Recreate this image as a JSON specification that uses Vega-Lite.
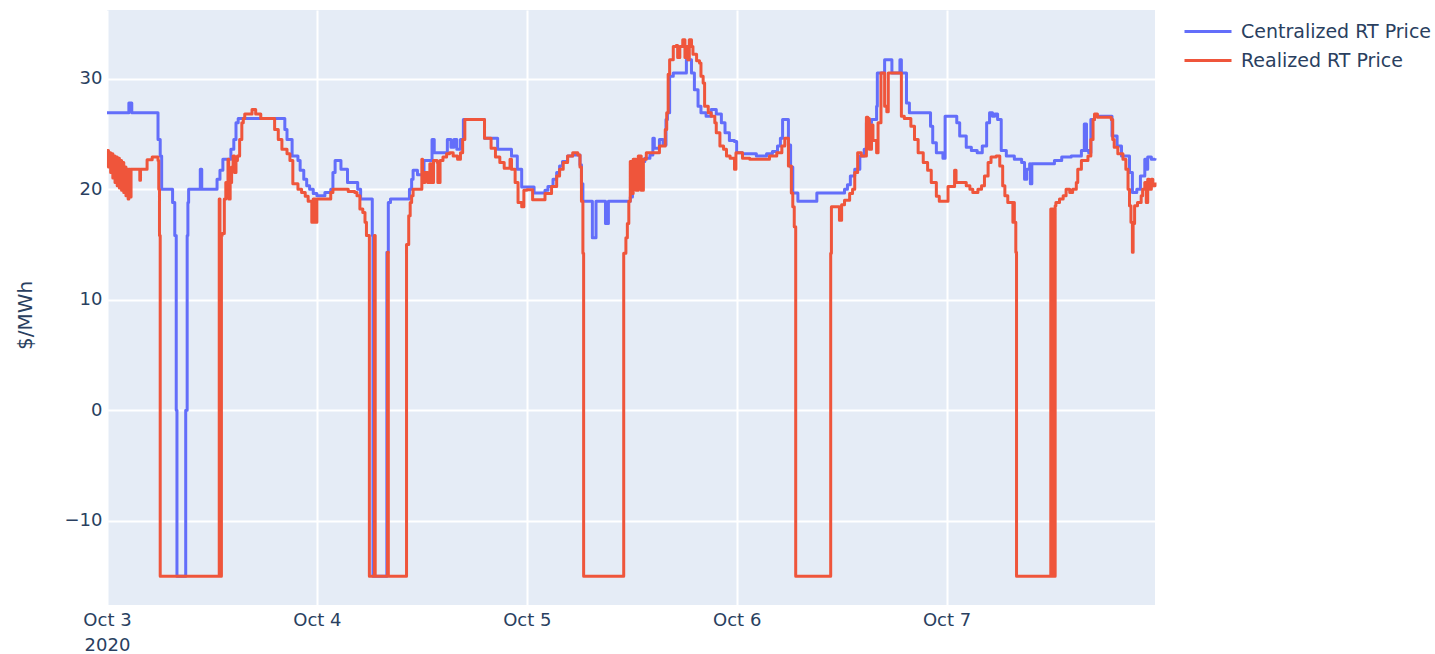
{
  "$schema": "https://vega.github.io/schema/vega-lite/v6.json",
  "width": 1048,
  "height": 595,
  "autosize": {"type": "none"},
  "padding": {"left": 107, "top": 10, "right": 280, "bottom": 49},
  "background": "white",
  "config": {
    "view": {"fill": "#E5ECF6", "stroke": null},
    "font": "DejaVu Sans",
    "axis": {
      "grid": true,
      "gridColor": "white",
      "gridWidth": 2,
      "domain": false,
      "ticks": false,
      "labelColor": "#2a3f5f",
      "labelFontSize": 18,
      "titleColor": "#2a3f5f",
      "titleFontWeight": "normal",
      "titleFontSize": 20
    },
    "legend": {
      "labelColor": "#2a3f5f",
      "labelFontSize": 19,
      "labelLimit": 400,
      "symbolType": "stroke",
      "symbolStrokeWidth": 3,
      "symbolSize": 2209,
      "labelOffset": 8,
      "clipHeight": 29,
      "rowPadding": 0,
      "padding": 0
    }
  },
  "datasets": {
    "central": [
      {"t": "2020-10-03T00:00", "p": 26.9},
      {"t": "2020-10-03T02:30", "p": 27.8},
      {"t": "2020-10-03T02:50", "p": 26.9},
      {"t": "2020-10-03T05:50", "p": 24.5},
      {"t": "2020-10-03T06:05", "p": 23.0},
      {"t": "2020-10-03T06:15", "p": 20.0},
      {"t": "2020-10-03T07:30", "p": 18.8},
      {"t": "2020-10-03T07:45", "p": 15.8},
      {"t": "2020-10-03T07:55", "p": 0},
      {"t": "2020-10-03T08:00", "p": -15},
      {"t": "2020-10-03T09:00", "p": 0},
      {"t": "2020-10-03T09:10", "p": 15.8},
      {"t": "2020-10-03T09:15", "p": 18.8},
      {"t": "2020-10-03T09:20", "p": 20.0},
      {"t": "2020-10-03T10:40", "p": 21.8},
      {"t": "2020-10-03T10:50", "p": 20.0},
      {"t": "2020-10-03T12:35", "p": 20.9},
      {"t": "2020-10-03T12:55", "p": 21.7},
      {"t": "2020-10-03T13:15", "p": 22.7},
      {"t": "2020-10-03T14:10", "p": 23.6},
      {"t": "2020-10-03T14:30", "p": 24.5},
      {"t": "2020-10-03T14:45", "p": 26.0},
      {"t": "2020-10-03T15:00", "p": 26.4},
      {"t": "2020-10-03T20:20", "p": 25.4},
      {"t": "2020-10-03T20:35", "p": 24.5},
      {"t": "2020-10-03T21:10", "p": 23.0},
      {"t": "2020-10-03T21:50", "p": 22.6},
      {"t": "2020-10-03T22:05", "p": 21.7},
      {"t": "2020-10-03T22:30", "p": 20.9},
      {"t": "2020-10-03T22:50", "p": 20.3},
      {"t": "2020-10-03T23:10", "p": 20.0},
      {"t": "2020-10-03T23:35", "p": 19.6},
      {"t": "2020-10-04T00:00", "p": 19.4},
      {"t": "2020-10-04T00:55", "p": 19.7},
      {"t": "2020-10-04T01:35", "p": 20.0},
      {"t": "2020-10-04T01:50", "p": 21.5},
      {"t": "2020-10-04T02:05", "p": 22.6},
      {"t": "2020-10-04T02:45", "p": 21.8},
      {"t": "2020-10-04T03:30", "p": 20.6},
      {"t": "2020-10-04T04:40", "p": 20.0},
      {"t": "2020-10-04T05:00", "p": 19.1},
      {"t": "2020-10-04T06:20", "p": 15.8},
      {"t": "2020-10-04T06:25", "p": -15},
      {"t": "2020-10-04T08:00", "p": 14.3},
      {"t": "2020-10-04T08:10", "p": 18.8},
      {"t": "2020-10-04T08:25", "p": 19.1},
      {"t": "2020-10-04T10:35", "p": 20.0},
      {"t": "2020-10-04T10:50", "p": 20.9},
      {"t": "2020-10-04T11:00", "p": 21.7},
      {"t": "2020-10-04T11:30", "p": 21.3},
      {"t": "2020-10-04T12:15", "p": 22.6},
      {"t": "2020-10-04T13:10", "p": 24.5},
      {"t": "2020-10-04T13:25", "p": 23.3},
      {"t": "2020-10-04T14:55", "p": 24.5},
      {"t": "2020-10-04T15:20", "p": 23.8},
      {"t": "2020-10-04T15:40", "p": 24.5},
      {"t": "2020-10-04T16:00", "p": 23.6},
      {"t": "2020-10-04T16:25", "p": 24.5},
      {"t": "2020-10-04T16:45", "p": 26.3},
      {"t": "2020-10-04T19:10", "p": 24.6},
      {"t": "2020-10-04T20:40", "p": 23.6},
      {"t": "2020-10-04T22:15", "p": 23.0},
      {"t": "2020-10-04T22:55", "p": 21.8},
      {"t": "2020-10-04T23:25", "p": 20.2},
      {"t": "2020-10-05T00:50", "p": 19.65},
      {"t": "2020-10-05T02:05", "p": 19.9},
      {"t": "2020-10-05T02:25", "p": 20.25},
      {"t": "2020-10-05T03:00", "p": 20.9},
      {"t": "2020-10-05T03:25", "p": 21.5},
      {"t": "2020-10-05T03:45", "p": 22.1},
      {"t": "2020-10-05T04:05", "p": 22.5},
      {"t": "2020-10-05T04:40", "p": 23.0},
      {"t": "2020-10-05T05:15", "p": 23.1},
      {"t": "2020-10-05T06:05", "p": 22.2},
      {"t": "2020-10-05T06:15", "p": 20.5},
      {"t": "2020-10-05T06:25", "p": 18.9},
      {"t": "2020-10-05T07:30", "p": 15.6},
      {"t": "2020-10-05T07:55", "p": 18.9},
      {"t": "2020-10-05T09:00", "p": 16.9},
      {"t": "2020-10-05T09:20", "p": 18.9},
      {"t": "2020-10-05T11:50", "p": 19.3},
      {"t": "2020-10-05T12:05", "p": 20.0},
      {"t": "2020-10-05T12:25", "p": 21.5},
      {"t": "2020-10-05T12:50", "p": 22.5},
      {"t": "2020-10-05T13:30", "p": 22.8},
      {"t": "2020-10-05T14:05", "p": 23.1},
      {"t": "2020-10-05T14:25", "p": 24.6},
      {"t": "2020-10-05T14:35", "p": 23.7},
      {"t": "2020-10-05T15:10", "p": 24.5},
      {"t": "2020-10-05T15:35", "p": 24.0},
      {"t": "2020-10-05T15:55", "p": 26.3},
      {"t": "2020-10-05T16:05", "p": 26.9},
      {"t": "2020-10-05T16:20", "p": 30.2},
      {"t": "2020-10-05T16:45", "p": 30.5},
      {"t": "2020-10-05T18:15", "p": 31.7},
      {"t": "2020-10-05T18:50", "p": 30.5},
      {"t": "2020-10-05T19:10", "p": 29.0},
      {"t": "2020-10-05T19:35", "p": 27.5},
      {"t": "2020-10-05T19:55", "p": 26.9},
      {"t": "2020-10-05T20:30", "p": 26.6},
      {"t": "2020-10-05T21:05", "p": 27.2},
      {"t": "2020-10-05T21:40", "p": 26.8},
      {"t": "2020-10-05T22:15", "p": 26.0},
      {"t": "2020-10-05T22:40", "p": 25.1},
      {"t": "2020-10-05T23:10", "p": 24.4},
      {"t": "2020-10-05T23:45", "p": 24.3},
      {"t": "2020-10-06T00:00", "p": 23.3},
      {"t": "2020-10-06T00:40", "p": 23.2},
      {"t": "2020-10-06T02:15", "p": 23.0},
      {"t": "2020-10-06T03:25", "p": 23.2},
      {"t": "2020-10-06T04:05", "p": 23.4},
      {"t": "2020-10-06T04:40", "p": 23.9},
      {"t": "2020-10-06T05:00", "p": 24.6},
      {"t": "2020-10-06T05:15", "p": 26.3},
      {"t": "2020-10-06T05:55", "p": 24.0},
      {"t": "2020-10-06T06:10", "p": 22.0},
      {"t": "2020-10-06T06:25", "p": 19.65},
      {"t": "2020-10-06T07:00", "p": 18.9},
      {"t": "2020-10-06T09:10", "p": 19.65},
      {"t": "2020-10-06T12:20", "p": 20.0},
      {"t": "2020-10-06T12:40", "p": 20.4},
      {"t": "2020-10-06T13:00", "p": 21.2},
      {"t": "2020-10-06T13:30", "p": 21.8},
      {"t": "2020-10-06T14:05", "p": 23.0},
      {"t": "2020-10-06T14:35", "p": 23.6},
      {"t": "2020-10-06T14:50", "p": 26.0},
      {"t": "2020-10-06T15:25", "p": 26.3},
      {"t": "2020-10-06T16:00", "p": 27.5},
      {"t": "2020-10-06T16:05", "p": 30.5},
      {"t": "2020-10-06T16:55", "p": 31.7},
      {"t": "2020-10-06T17:45", "p": 30.5},
      {"t": "2020-10-06T18:40", "p": 31.7},
      {"t": "2020-10-06T18:50", "p": 30.5},
      {"t": "2020-10-06T19:25", "p": 27.8},
      {"t": "2020-10-06T19:45", "p": 26.9},
      {"t": "2020-10-06T22:10", "p": 25.7},
      {"t": "2020-10-06T22:25", "p": 24.2},
      {"t": "2020-10-06T22:50", "p": 23.3},
      {"t": "2020-10-06T23:35", "p": 22.8},
      {"t": "2020-10-06T23:50", "p": 26.6},
      {"t": "2020-10-07T01:10", "p": 26.0},
      {"t": "2020-10-07T01:30", "p": 24.8},
      {"t": "2020-10-07T02:15", "p": 23.8},
      {"t": "2020-10-07T02:50", "p": 23.5},
      {"t": "2020-10-07T03:30", "p": 23.3},
      {"t": "2020-10-07T04:05", "p": 23.9},
      {"t": "2020-10-07T04:35", "p": 26.0},
      {"t": "2020-10-07T04:55", "p": 26.9},
      {"t": "2020-10-07T05:15", "p": 26.6},
      {"t": "2020-10-07T05:30", "p": 26.8},
      {"t": "2020-10-07T05:50", "p": 26.3},
      {"t": "2020-10-07T06:15", "p": 23.5},
      {"t": "2020-10-07T06:50", "p": 23.0},
      {"t": "2020-10-07T07:45", "p": 22.7},
      {"t": "2020-10-07T08:35", "p": 22.4},
      {"t": "2020-10-07T08:55", "p": 20.9},
      {"t": "2020-10-07T09:10", "p": 21.8},
      {"t": "2020-10-07T09:30", "p": 22.3},
      {"t": "2020-10-07T09:35", "p": 20.5},
      {"t": "2020-10-07T09:45", "p": 22.3},
      {"t": "2020-10-07T12:20", "p": 22.6},
      {"t": "2020-10-07T13:10", "p": 22.9},
      {"t": "2020-10-07T14:15", "p": 23.0},
      {"t": "2020-10-07T15:25", "p": 23.5},
      {"t": "2020-10-07T15:45", "p": 25.9},
      {"t": "2020-10-07T16:00", "p": 23.5},
      {"t": "2020-10-07T16:15", "p": 23.3},
      {"t": "2020-10-07T16:30", "p": 26.3},
      {"t": "2020-10-07T16:55", "p": 26.6},
      {"t": "2020-10-07T18:55", "p": 24.8},
      {"t": "2020-10-07T19:30", "p": 23.9},
      {"t": "2020-10-07T20:00", "p": 23.0},
      {"t": "2020-10-07T20:55", "p": 21.5},
      {"t": "2020-10-07T21:15", "p": 19.7},
      {"t": "2020-10-07T21:45", "p": 20.0},
      {"t": "2020-10-07T22:10", "p": 21.2},
      {"t": "2020-10-07T22:40", "p": 22.7},
      {"t": "2020-10-07T22:50", "p": 21.8},
      {"t": "2020-10-07T23:00", "p": 22.9},
      {"t": "2020-10-07T23:25", "p": 22.7},
      {"t": "2020-10-07T23:50", "p": 22.8}
    ],
    "realized": [
      {"t": "2020-10-03T00:00", "p": 23.5},
      {"t": "2020-10-03T00:10", "p": 22.0},
      {"t": "2020-10-03T00:15", "p": 23.3},
      {"t": "2020-10-03T00:25", "p": 21.5},
      {"t": "2020-10-03T00:30", "p": 23.2},
      {"t": "2020-10-03T00:40", "p": 21.0},
      {"t": "2020-10-03T00:45", "p": 23.0},
      {"t": "2020-10-03T00:55", "p": 20.6},
      {"t": "2020-10-03T01:00", "p": 22.9},
      {"t": "2020-10-03T01:10", "p": 20.3},
      {"t": "2020-10-03T01:15", "p": 22.8},
      {"t": "2020-10-03T01:25", "p": 20.1},
      {"t": "2020-10-03T01:30", "p": 22.6},
      {"t": "2020-10-03T01:40", "p": 19.9},
      {"t": "2020-10-03T01:45", "p": 22.4},
      {"t": "2020-10-03T01:55", "p": 19.7},
      {"t": "2020-10-03T02:00", "p": 22.0},
      {"t": "2020-10-03T02:10", "p": 19.4},
      {"t": "2020-10-03T02:15", "p": 21.8},
      {"t": "2020-10-03T02:25", "p": 19.1},
      {"t": "2020-10-03T02:30", "p": 21.8},
      {"t": "2020-10-03T02:40", "p": 19.3},
      {"t": "2020-10-03T02:45", "p": 21.8},
      {"t": "2020-10-03T03:45", "p": 20.8},
      {"t": "2020-10-03T03:50", "p": 21.8},
      {"t": "2020-10-03T04:35", "p": 22.65},
      {"t": "2020-10-03T05:10", "p": 22.9},
      {"t": "2020-10-03T05:50", "p": 22.6},
      {"t": "2020-10-03T05:55", "p": 20.0},
      {"t": "2020-10-03T06:00", "p": 15.8},
      {"t": "2020-10-03T06:05", "p": -15},
      {"t": "2020-10-03T12:50", "p": 19.1},
      {"t": "2020-10-03T12:55", "p": -15},
      {"t": "2020-10-03T13:05", "p": 15.8},
      {"t": "2020-10-03T13:10", "p": 16.0},
      {"t": "2020-10-03T13:25", "p": 19.1},
      {"t": "2020-10-03T13:35", "p": 20.6},
      {"t": "2020-10-03T13:50", "p": 22.7},
      {"t": "2020-10-03T13:55", "p": 19.1},
      {"t": "2020-10-03T14:05", "p": 20.6},
      {"t": "2020-10-03T14:15", "p": 22.0},
      {"t": "2020-10-03T14:25", "p": 23.0},
      {"t": "2020-10-03T14:35", "p": 21.5},
      {"t": "2020-10-03T14:45", "p": 22.6},
      {"t": "2020-10-03T14:55", "p": 23.0},
      {"t": "2020-10-03T15:10", "p": 24.5},
      {"t": "2020-10-03T15:25", "p": 26.0},
      {"t": "2020-10-03T15:35", "p": 26.4},
      {"t": "2020-10-03T15:45", "p": 26.8},
      {"t": "2020-10-03T16:35", "p": 27.2},
      {"t": "2020-10-03T17:00", "p": 26.8},
      {"t": "2020-10-03T17:35", "p": 26.4},
      {"t": "2020-10-03T19:10", "p": 25.4},
      {"t": "2020-10-03T19:35", "p": 24.5},
      {"t": "2020-10-03T20:00", "p": 23.6},
      {"t": "2020-10-03T20:35", "p": 23.2},
      {"t": "2020-10-03T20:55", "p": 22.6},
      {"t": "2020-10-03T21:15", "p": 20.5},
      {"t": "2020-10-03T21:50", "p": 20.0},
      {"t": "2020-10-03T22:15", "p": 19.7},
      {"t": "2020-10-03T22:40", "p": 19.35},
      {"t": "2020-10-03T23:00", "p": 18.9},
      {"t": "2020-10-03T23:25", "p": 17.0},
      {"t": "2020-10-03T23:35", "p": 19.1},
      {"t": "2020-10-03T23:50", "p": 17.0},
      {"t": "2020-10-04T00:00", "p": 19.1},
      {"t": "2020-10-04T01:35", "p": 19.7},
      {"t": "2020-10-04T01:50", "p": 20.0},
      {"t": "2020-10-04T03:35", "p": 19.8},
      {"t": "2020-10-04T04:20", "p": 19.7},
      {"t": "2020-10-04T04:35", "p": 19.4},
      {"t": "2020-10-04T04:55", "p": 18.2},
      {"t": "2020-10-04T05:15", "p": 17.9},
      {"t": "2020-10-04T05:30", "p": 17.0},
      {"t": "2020-10-04T05:40", "p": 15.8},
      {"t": "2020-10-04T06:00", "p": -15},
      {"t": "2020-10-04T06:35", "p": 15.8},
      {"t": "2020-10-04T06:40", "p": -15},
      {"t": "2020-10-04T08:05", "p": 14.3},
      {"t": "2020-10-04T08:10", "p": -15},
      {"t": "2020-10-04T10:15", "p": 15.0},
      {"t": "2020-10-04T10:30", "p": 17.6},
      {"t": "2020-10-04T10:40", "p": 18.8},
      {"t": "2020-10-04T10:50", "p": 19.4},
      {"t": "2020-10-04T11:00", "p": 20.0},
      {"t": "2020-10-04T12:00", "p": 22.7},
      {"t": "2020-10-04T12:05", "p": 20.6},
      {"t": "2020-10-04T12:20", "p": 21.5},
      {"t": "2020-10-04T12:40", "p": 20.6},
      {"t": "2020-10-04T12:55", "p": 22.3},
      {"t": "2020-10-04T13:05", "p": 20.6},
      {"t": "2020-10-04T13:20", "p": 22.6},
      {"t": "2020-10-04T13:45", "p": 22.4},
      {"t": "2020-10-04T13:50", "p": 20.6},
      {"t": "2020-10-04T14:05", "p": 22.6},
      {"t": "2020-10-04T14:25", "p": 22.9},
      {"t": "2020-10-04T14:50", "p": 23.2},
      {"t": "2020-10-04T15:10", "p": 23.3},
      {"t": "2020-10-04T15:35", "p": 23.0},
      {"t": "2020-10-04T16:05", "p": 22.7},
      {"t": "2020-10-04T16:25", "p": 23.3},
      {"t": "2020-10-04T16:40", "p": 24.5},
      {"t": "2020-10-04T16:55", "p": 26.3},
      {"t": "2020-10-04T19:10", "p": 24.6},
      {"t": "2020-10-04T19:55", "p": 23.7},
      {"t": "2020-10-04T20:25", "p": 22.9},
      {"t": "2020-10-04T20:55", "p": 22.4},
      {"t": "2020-10-04T21:25", "p": 21.9},
      {"t": "2020-10-04T22:05", "p": 22.7},
      {"t": "2020-10-04T22:15", "p": 21.8},
      {"t": "2020-10-04T22:40", "p": 20.6},
      {"t": "2020-10-04T23:00", "p": 18.8},
      {"t": "2020-10-04T23:25", "p": 18.4},
      {"t": "2020-10-04T23:40", "p": 19.9},
      {"t": "2020-10-05T00:00", "p": 19.95},
      {"t": "2020-10-05T00:40", "p": 19.05},
      {"t": "2020-10-05T02:05", "p": 19.6},
      {"t": "2020-10-05T02:50", "p": 20.25},
      {"t": "2020-10-05T03:25", "p": 21.2},
      {"t": "2020-10-05T03:45", "p": 21.8},
      {"t": "2020-10-05T04:10", "p": 22.4},
      {"t": "2020-10-05T04:40", "p": 23.0},
      {"t": "2020-10-05T05:15", "p": 23.3},
      {"t": "2020-10-05T05:50", "p": 23.1},
      {"t": "2020-10-05T06:05", "p": 22.0},
      {"t": "2020-10-05T06:15", "p": 18.9},
      {"t": "2020-10-05T06:25", "p": 14.2},
      {"t": "2020-10-05T06:30", "p": -15},
      {"t": "2020-10-05T11:05", "p": 14.2},
      {"t": "2020-10-05T11:20", "p": 15.6},
      {"t": "2020-10-05T11:30", "p": 16.9},
      {"t": "2020-10-05T11:40", "p": 18.9},
      {"t": "2020-10-05T11:50", "p": 22.5},
      {"t": "2020-10-05T12:00", "p": 19.6},
      {"t": "2020-10-05T12:10", "p": 22.7},
      {"t": "2020-10-05T12:30", "p": 19.9},
      {"t": "2020-10-05T12:45", "p": 23.0},
      {"t": "2020-10-05T13:05", "p": 19.9},
      {"t": "2020-10-05T13:20", "p": 22.7},
      {"t": "2020-10-05T13:40", "p": 23.3},
      {"t": "2020-10-05T15:10", "p": 23.9},
      {"t": "2020-10-05T15:50", "p": 25.4},
      {"t": "2020-10-05T16:00", "p": 26.9},
      {"t": "2020-10-05T16:10", "p": 30.4},
      {"t": "2020-10-05T16:20", "p": 31.7},
      {"t": "2020-10-05T16:45", "p": 32.9},
      {"t": "2020-10-05T17:05", "p": 33.0},
      {"t": "2020-10-05T17:15", "p": 31.9},
      {"t": "2020-10-05T17:30", "p": 32.9},
      {"t": "2020-10-05T17:50", "p": 33.5},
      {"t": "2020-10-05T18:05", "p": 31.9},
      {"t": "2020-10-05T18:15", "p": 32.9},
      {"t": "2020-10-05T18:25", "p": 31.7},
      {"t": "2020-10-05T18:35", "p": 33.5},
      {"t": "2020-10-05T18:50", "p": 32.9},
      {"t": "2020-10-05T19:00", "p": 32.2},
      {"t": "2020-10-05T19:25", "p": 31.6},
      {"t": "2020-10-05T19:45", "p": 31.4},
      {"t": "2020-10-05T19:55", "p": 30.2},
      {"t": "2020-10-05T20:10", "p": 29.6},
      {"t": "2020-10-05T20:20", "p": 27.5},
      {"t": "2020-10-05T20:45", "p": 26.9},
      {"t": "2020-10-05T21:05", "p": 26.6},
      {"t": "2020-10-05T21:30", "p": 26.0},
      {"t": "2020-10-05T21:40", "p": 25.1},
      {"t": "2020-10-05T22:05", "p": 23.9},
      {"t": "2020-10-05T22:30", "p": 23.6},
      {"t": "2020-10-05T22:50", "p": 23.0},
      {"t": "2020-10-05T23:15", "p": 22.8},
      {"t": "2020-10-05T23:45", "p": 21.8},
      {"t": "2020-10-05T23:55", "p": 23.3},
      {"t": "2020-10-06T00:40", "p": 22.8},
      {"t": "2020-10-06T01:30", "p": 22.7},
      {"t": "2020-10-06T03:45", "p": 23.0},
      {"t": "2020-10-06T04:35", "p": 23.3},
      {"t": "2020-10-06T05:10", "p": 23.9},
      {"t": "2020-10-06T05:30", "p": 24.6},
      {"t": "2020-10-06T05:55", "p": 22.1},
      {"t": "2020-10-06T06:15", "p": 19.65},
      {"t": "2020-10-06T06:25", "p": 18.4},
      {"t": "2020-10-06T06:35", "p": 16.6},
      {"t": "2020-10-06T06:45", "p": -15},
      {"t": "2020-10-06T10:45", "p": 14.2},
      {"t": "2020-10-06T10:50", "p": 18.4},
      {"t": "2020-10-06T11:45", "p": 17.2},
      {"t": "2020-10-06T12:00", "p": 18.6},
      {"t": "2020-10-06T12:20", "p": 19.0},
      {"t": "2020-10-06T12:55", "p": 19.6},
      {"t": "2020-10-06T13:15", "p": 20.0},
      {"t": "2020-10-06T13:30", "p": 21.5},
      {"t": "2020-10-06T13:50", "p": 23.3},
      {"t": "2020-10-06T14:15", "p": 23.0},
      {"t": "2020-10-06T14:50", "p": 26.5},
      {"t": "2020-10-06T15:00", "p": 26.4},
      {"t": "2020-10-06T15:10", "p": 23.6},
      {"t": "2020-10-06T15:25", "p": 25.8},
      {"t": "2020-10-06T15:35", "p": 24.4},
      {"t": "2020-10-06T16:00", "p": 23.3},
      {"t": "2020-10-06T16:10", "p": 26.0},
      {"t": "2020-10-06T16:30", "p": 30.5},
      {"t": "2020-10-06T16:55", "p": 27.5},
      {"t": "2020-10-06T17:10", "p": 27.0},
      {"t": "2020-10-06T17:20", "p": 30.5},
      {"t": "2020-10-06T18:50", "p": 26.6},
      {"t": "2020-10-06T19:10", "p": 26.4},
      {"t": "2020-10-06T19:55", "p": 25.7},
      {"t": "2020-10-06T20:20", "p": 24.5},
      {"t": "2020-10-06T20:45", "p": 23.3},
      {"t": "2020-10-06T21:20", "p": 22.4},
      {"t": "2020-10-06T21:50", "p": 21.7},
      {"t": "2020-10-06T22:15", "p": 20.6},
      {"t": "2020-10-06T22:50", "p": 19.35},
      {"t": "2020-10-06T23:10", "p": 18.9},
      {"t": "2020-10-07T00:10", "p": 20.25},
      {"t": "2020-10-07T00:55", "p": 21.7},
      {"t": "2020-10-07T01:05", "p": 20.6},
      {"t": "2020-10-07T02:15", "p": 20.3},
      {"t": "2020-10-07T02:40", "p": 20.0},
      {"t": "2020-10-07T03:00", "p": 19.7},
      {"t": "2020-10-07T03:35", "p": 20.0},
      {"t": "2020-10-07T04:00", "p": 20.3},
      {"t": "2020-10-07T04:20", "p": 21.2},
      {"t": "2020-10-07T04:45", "p": 22.4},
      {"t": "2020-10-07T05:05", "p": 22.9},
      {"t": "2020-10-07T05:40", "p": 23.0},
      {"t": "2020-10-07T06:05", "p": 22.1},
      {"t": "2020-10-07T06:25", "p": 20.3},
      {"t": "2020-10-07T06:40", "p": 19.4},
      {"t": "2020-10-07T07:00", "p": 18.8},
      {"t": "2020-10-07T07:35", "p": 17.0},
      {"t": "2020-10-07T07:40", "p": 18.8},
      {"t": "2020-10-07T07:45", "p": 17.0},
      {"t": "2020-10-07T07:55", "p": 14.3},
      {"t": "2020-10-07T08:00", "p": -15},
      {"t": "2020-10-07T11:55", "p": 18.2},
      {"t": "2020-10-07T12:00", "p": -15},
      {"t": "2020-10-07T12:05", "p": 18.2},
      {"t": "2020-10-07T12:10", "p": -15},
      {"t": "2020-10-07T12:15", "p": 17.5},
      {"t": "2020-10-07T12:20", "p": -15},
      {"t": "2020-10-07T12:25", "p": 18.5},
      {"t": "2020-10-07T12:30", "p": 18.8},
      {"t": "2020-10-07T12:55", "p": 19.1},
      {"t": "2020-10-07T13:20", "p": 19.4},
      {"t": "2020-10-07T13:40", "p": 20.0},
      {"t": "2020-10-07T14:05", "p": 19.7},
      {"t": "2020-10-07T14:25", "p": 20.0},
      {"t": "2020-10-07T14:50", "p": 20.6},
      {"t": "2020-10-07T15:00", "p": 21.8},
      {"t": "2020-10-07T15:25", "p": 22.6},
      {"t": "2020-10-07T16:10", "p": 23.0},
      {"t": "2020-10-07T16:30", "p": 24.5},
      {"t": "2020-10-07T16:45", "p": 26.3},
      {"t": "2020-10-07T16:55", "p": 26.8},
      {"t": "2020-10-07T17:15", "p": 26.5},
      {"t": "2020-10-07T18:50", "p": 26.3},
      {"t": "2020-10-07T19:00", "p": 24.5},
      {"t": "2020-10-07T19:10", "p": 23.8},
      {"t": "2020-10-07T19:35", "p": 23.2},
      {"t": "2020-10-07T20:10", "p": 22.7},
      {"t": "2020-10-07T20:30", "p": 21.8},
      {"t": "2020-10-07T20:45", "p": 20.0},
      {"t": "2020-10-07T20:55", "p": 18.5},
      {"t": "2020-10-07T21:05", "p": 17.0},
      {"t": "2020-10-07T21:15", "p": 14.3},
      {"t": "2020-10-07T21:20", "p": 16.9},
      {"t": "2020-10-07T21:30", "p": 18.5},
      {"t": "2020-10-07T21:50", "p": 18.8},
      {"t": "2020-10-07T22:15", "p": 19.4},
      {"t": "2020-10-07T22:25", "p": 20.0},
      {"t": "2020-10-07T22:40", "p": 20.6},
      {"t": "2020-10-07T22:50", "p": 18.8},
      {"t": "2020-10-07T23:00", "p": 20.9},
      {"t": "2020-10-07T23:10", "p": 20.0},
      {"t": "2020-10-07T23:25", "p": 20.9},
      {"t": "2020-10-07T23:35", "p": 20.3},
      {"t": "2020-10-07T23:50", "p": 20.6}
    ]
  },
  "encoding": {
    "x": {
      "field": "t",
      "type": "temporal",
      "scale": {
        "domain": [
          {"year": 2020, "month": 10, "date": 3, "hours": 0},
          {"year": 2020, "month": 10, "date": 7, "hours": 23, "minutes": 50}
        ]
      },
      "axis": {
        "title": null,
        "values": [
          {"year": 2020, "month": 10, "date": 3},
          {"year": 2020, "month": 10, "date": 4},
          {"year": 2020, "month": 10, "date": 5},
          {"year": 2020, "month": 10, "date": 6},
          {"year": 2020, "month": 10, "date": 7}
        ],
        "labelExpr": "date(datum.value) == 3 ? [timeFormat(datum.value, '%b %-d'), '2020'] : timeFormat(datum.value, '%b %-d')",
        "labelFlush": false,
        "labelOverlap": false,
        "labelPadding": 6,
        "labelLineHeight": 25,
        "labelAlign": "center"
      }
    },
    "y": {
      "field": "p",
      "type": "quantitative",
      "scale": {"domain": [-17.6, 36.2], "nice": false, "zero": false},
      "axis": {
        "title": "$/MWh",
        "values": [-10, 0, 10, 20, 30],
        "labelPadding": 5,
        "titleX": -82,
        "titleY": 305,
        "titleAngle": 270,
        "titleAlign": "center",
        "titleBaseline": "middle"
      }
    }
  },
  "layer": [
    {
      "data": {"name": "central", "format": {"parse": {"t": "date"}}},
      "mark": {"type": "line", "interpolate": "step-after", "strokeWidth": 3, "strokeJoin": "round"},
      "encoding": {
        "color": {
          "datum": "Centralized RT Price",
          "scale": {
            "domain": ["Centralized RT Price", "Realized RT Price"],
            "range": ["#636efa", "#ef553b"]
          },
          "legend": {
            "title": null,
            "orient": "none",
            "legendX": 1076,
            "legendY": 7,
            "direction": "vertical"
          }
        }
      }
    },
    {
      "data": {"name": "realized", "format": {"parse": {"t": "date"}}},
      "mark": {"type": "line", "interpolate": "step-after", "strokeWidth": 3, "strokeJoin": "round"},
      "encoding": {
        "color": {"datum": "Realized RT Price"}
      }
    }
  ]
}
